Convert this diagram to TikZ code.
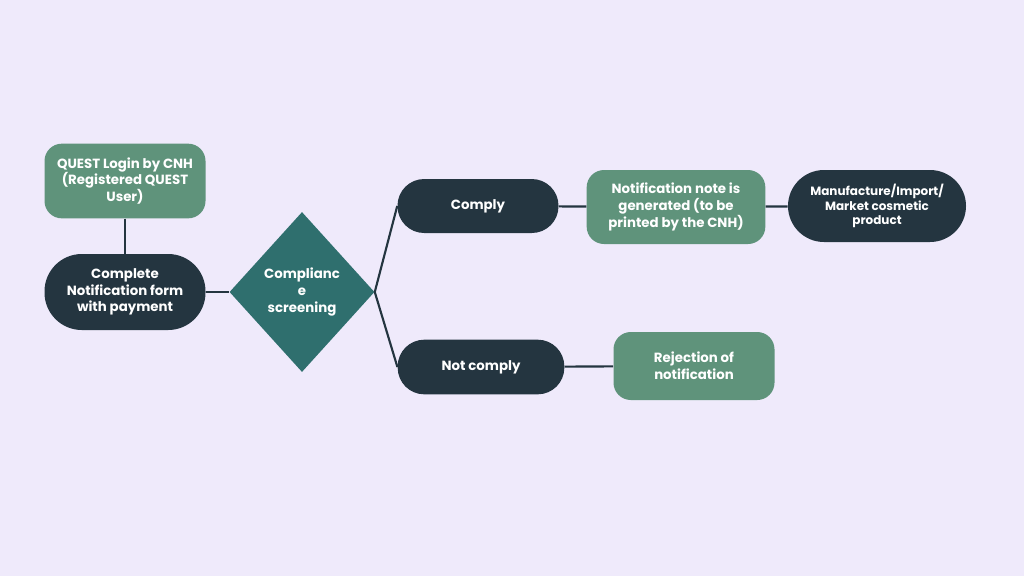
\documentclass[tikz,border=0pt]{standalone}
\usepackage{fontspec}
\setmainfont{Poppins}
\usetikzlibrary{shapes.geometric}
\definecolor{bg}{HTML}{EFEAFB}
\definecolor{dk}{HTML}{243540}
\definecolor{gr}{HTML}{5F937B}
\definecolor{tl}{HTML}{2F6F6E}
\tikzset{
 box/.style={rounded corners=18pt,text=white,font=\bfseries\fontsize{10}{12.5}\selectfont,align=center,inner sep=0pt},
 dkbox/.style={box,fill=dk},
 grbox/.style={box,fill=gr,rounded corners=13pt},
 ln/.style={draw=dk,line width=1.6pt}
}
\begin{document}
\begin{tikzpicture}[x=0.75pt,y=-0.75pt]
\fill[bg] (0,0) rectangle (1024,576);
\useasboundingbox (0,0) rectangle (1024,576);
\node[grbox,minimum width=120.75pt,minimum height=56pt] (login) at (125,181) {QUEST Login by CNH\\(Registered QUEST\\User)};
\node[dkbox,minimum width=120.75pt,minimum height=57pt,rounded corners=28pt] (form) at (125,292) {Complete\\Notification form\\with payment};
\node[diamond,fill=tl,minimum width=108.75pt,minimum height=120pt,inner sep=0pt,text=white,font=\bfseries\fontsize{10}{12.5}\selectfont,align=center] (dia) at (302,292) {Complianc\\e\\screening};
\node[dkbox,minimum width=120.75pt,minimum height=40.5pt,rounded corners=20pt] (comply) at (478,206) {Comply};
\node[dkbox,minimum width=125pt,minimum height=41pt,rounded corners=20pt] (not) at (481,367) {Not comply};
\node[grbox,minimum width=134pt,minimum height=55.5pt] (note) at (676,207) {Notification note is\\generated (to be\\printed by the CNH)};
\node[dkbox,minimum width=133.5pt,minimum height=54pt,rounded corners=27pt,font=\bfseries\fontsize{9}{11}\selectfont] (man) at (877,206) {Manufacture/Import/\\Market cosmetic\\product};
\node[grbox,minimum width=120.75pt,minimum height=51pt] (rej) at (694,366) {Rejection of\\notification};
\draw[ln] (login) -- (form);
\draw[ln] (form) -- (dia);
\draw[ln] (dia.east) -- (comply.west);
\draw[ln] (dia.east) -- (not.west);
\draw[ln] (comply) -- (note);
\draw[ln] (note) -- (man);
\draw[ln] (not) -- (rej);
\end{tikzpicture}
\end{document}
